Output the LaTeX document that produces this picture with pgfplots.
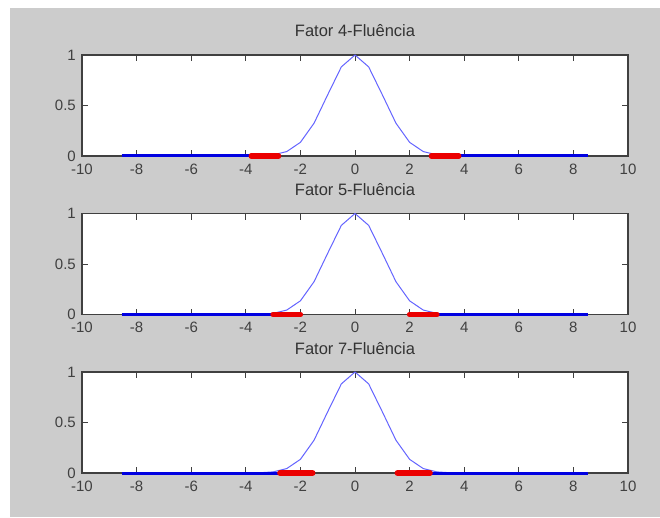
\documentclass[border=0pt]{standalone}
\usepackage{fontspec}
\setmainfont{Liberation Sans}
\usepackage{pgfplots}
\usepackage{pgfplotstable}
\pgfplotsset{compat=1.18}
\definecolor{figgray}{RGB}{204,204,204}
\definecolor{axgray}{RGB}{64,64,64}
\definecolor{curveblue}{RGB}{100,100,255}
\definecolor{thickblue}{RGB}{0,0,225}
\definecolor{thickred}{RGB}{235,0,0}

\pgfplotstableread{
x y
-8.5 0
-4.5 0
-4.0 0.0003
-3.5 0.0022
-3.0 0.0111
-2.5 0.0439
-2.0 0.1353
-1.5 0.3247
-1.0 0.6065
-0.5 0.8825
0.0 1.0000
0.5 0.8825
1.0 0.6065
1.5 0.3247
2.0 0.1353
2.5 0.0439
3.0 0.0111
3.5 0.0022
4.0 0.0003
4.5 0
8.5 0
}\curve

\pgfplotsset{
 geom/.style={scale only axis, width=546pt, height=101pt, anchor=south west,
  xmin=-10,xmax=10,ymin=0,ymax=1, clip=false},
 matlabsub/.style={geom,
 xtick={-10,-8,...,10}, ytick={0,0.5,1},
 axis background/.style={fill=white},
 axis line style={axgray, line width=1.2pt},
 every tick/.style={axgray, line width=1pt},
 major tick length=6pt, tick align=inside,
 tick label style={font=\fontsize{15}{18}\selectfont, text=axgray},
 /pgf/number format/assume math mode=true,
 xticklabel style={inner sep=0pt, yshift=-7.5pt},
 yticklabel style={inner sep=0pt, xshift=-6pt},
 title style={font=\fontsize{16.5}{19}\selectfont, text=axgray!80!black, at={(0.5,1)}, anchor=base, yshift=12pt, inner sep=0pt},
 },
 overlay/.style={geom, hide axis, axis background/.style={}},
}

\begin{document}
\begin{tikzpicture}
\fill[white] (0,0) rectangle (660pt,517pt);
\fill[figgray] (10pt,0) rectangle (660pt,509pt);

% Subplot 1
\begin{axis}[matlabsub, at={(82pt,361pt)}, title={Fator 4-Fluência}]
\addplot[curveblue, line width=1pt] table {\curve};
\end{axis}
\begin{axis}[overlay, at={(82pt,361pt)}]
\addplot[thickblue, line width=3pt] coordinates {(-8.55,0) (-3.3,0)};
\addplot[thickblue, line width=3pt] coordinates {(3.3,0) (8.55,0)};
\addplot[thickred, line width=5.5pt, line cap=round] coordinates {(-3.8,0) (-2.8,0)};
\addplot[thickred, line width=5.5pt, line cap=round] coordinates {(2.8,0) (3.8,0)};
\end{axis}

% Subplot 2
\begin{axis}[matlabsub, at={(82pt,202.5pt)}, title={Fator 5-Fluência}]
\addplot[curveblue, line width=1pt] table {\curve};
\end{axis}
\begin{axis}[overlay, at={(82pt,202.5pt)}]
\addplot[thickblue, line width=3pt] coordinates {(-8.55,0) (-2.5,0)};
\addplot[thickblue, line width=3pt] coordinates {(2.5,0) (8.55,0)};
\addplot[thickred, line width=5.5pt, line cap=round] coordinates {(-3.0,0) (-2.0,0)};
\addplot[thickred, line width=5.5pt, line cap=round] coordinates {(2.0,0) (3.0,0)};
\end{axis}

% Subplot 3
\begin{axis}[matlabsub, at={(82pt,44pt)}, title={Fator 7-Fluência}]
\addplot[curveblue, line width=1pt] table {\curve};
\end{axis}
\begin{axis}[overlay, at={(82pt,44pt)}]
\addplot[thickblue, line width=3pt] coordinates {(-8.55,0) (-2.2,0)};
\addplot[thickblue, line width=3pt] coordinates {(2.2,0) (8.55,0)};
\addplot[thickred, line width=5.5pt, line cap=round] coordinates {(-2.75,0) (-1.55,0)};
\addplot[thickred, line width=5.5pt, line cap=round] coordinates {(1.55,0) (2.75,0)};
\end{axis}
\end{tikzpicture}
\end{document}
